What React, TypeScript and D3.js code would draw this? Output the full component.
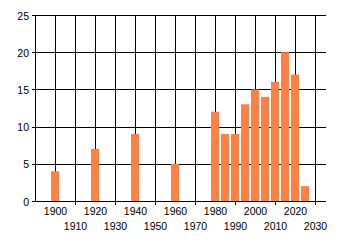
import React from "react";
import * as d3 from "d3";

const years = [1900, 1920, 1940, 1960, 1980, 1985, 1990, 1995, 2000, 2005, 2010, 2015, 2020, 2025];
const counts = [4, 7, 9, 5, 12, 9, 9, 13, 15, 14, 16, 20, 17, 2];
const yTicks = [0, 5, 10, 15, 20, 25];
const xTicks = [1900, 1910, 1920, 1930, 1940, 1950, 1960, 1970, 1980, 1990, 2000, 2010, 2020, 2030];

export default function App() {
  const W = 340, H = 245;
  const left = 35, right = 325, top = 15, bottom = 201;
  const x = d3.scaleLinear().domain([1890, 2035]).range([left, right]);
  const y = d3.scaleLinear().domain([0, 25]).range([bottom, top]);
  const font = "'Liberation Sans', Arial, sans-serif";
  const px = (v: number) => Math.round(v) + 0.5;
  return (
    <svg width={W} height={H} style={{ position: "absolute", left: 0, top: 0, background: "#fff" }}>
      {yTicks.map((t) => (
        <g key={"y" + t}>
          <line x1={left - 3} x2={right + 1} y1={px(y(t))} y2={px(y(t))} stroke="#000" strokeWidth={1} />
          <text x={29} y={y(t) + 0.5} textAnchor="end" dominantBaseline="central" fontFamily={font} fontSize={10.5} fill="#000">
            {t}
          </text>
        </g>
      ))}
      {xTicks.map((t, i) => (
        <g key={"x" + t}>
          <line x1={px(x(t))} x2={px(x(t))} y1={top} y2={i % 2 === 1 ? bottom + 4 : bottom + 1} stroke="#000" strokeWidth={1} />
          <text x={x(t) + 0.5} y={i % 2 === 0 ? 210.5 : 226} textAnchor="middle" dominantBaseline="central" fontFamily={font} fontSize={10.5} fill="#000">
            {t}
          </text>
        </g>
      ))}
      <line x1={px(left)} x2={px(left)} y1={top} y2={bottom + 1} stroke="#000" strokeWidth={1} />
      {years.map((yr, i) => (
        <rect key={yr} x={x(yr) - 4} width={8} y={y(counts[i])} height={bottom - y(counts[i])} fill="#FF8040" />
      ))}
    </svg>
  );
}
